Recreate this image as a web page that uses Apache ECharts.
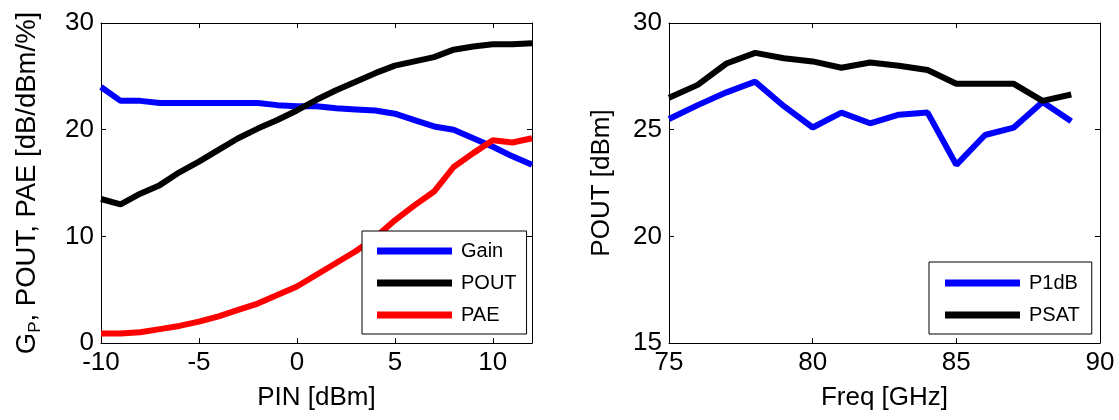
<!DOCTYPE html>
<html>
<head>
<meta charset="utf-8">
<script src="https://cdn.jsdelivr.net/npm/echarts@6/dist/echarts.min.js"></script>
<style>
  html, body { margin: 0; padding: 0; background: #fff; }
  #chart { width: 1119px; height: 420px; }
</style>
</head>
<body>
<div id="chart"></div>
<script>
// left panel: sweep of input power
const pin = [-10, -9, -8, -7, -6, -5, -4, -3, -2, -1, 0, 1, 2, 3, 4, 5, 6, 7, 8, 9, 10, 11, 12];
const gain = [24.0, 22.7, 22.7, 22.5, 22.5, 22.5, 22.5, 22.5, 22.5, 22.3, 22.2, 22.2, 22.0, 21.9, 21.8, 21.5, 20.9, 20.3, 20.0, 19.2, 18.4, 17.5, 16.7];
const pout = [13.5, 13.0, 14.0, 14.8, 16.0, 17.0, 18.1, 19.2, 20.1, 20.9, 21.8, 22.8, 23.7, 24.5, 25.3, 26.0, 26.4, 26.8, 27.5, 27.8, 28.0, 28.0, 28.1];
const pae = [0.9, 0.9, 1.0, 1.3, 1.6, 2.0, 2.5, 3.1, 3.7, 4.5, 5.3, 6.4, 7.5, 8.6, 9.9, 11.5, 12.9, 14.2, 16.5, 17.8, 19.0, 18.8, 19.2];

// right panel: sweep of frequency
const freq = [75, 76, 77, 78, 79, 80, 81, 82, 83, 84, 85, 86, 87, 88, 89];
const p1db = [25.5, 26.15, 26.75, 27.25, 26.1, 25.1, 25.8, 25.3, 25.7, 25.8, 23.35, 24.75, 25.1, 26.3, 25.4];
const psat = [26.5, 27.1, 28.1, 28.6, 28.35, 28.2, 27.9, 28.15, 28.0, 27.8, 27.15, 27.15, 27.15, 26.35, 26.65];

const font = 'Liberation Sans, Arial, sans-serif';
const tickFont = 26;
const nameFont = 26;

function pairs(xs, ys) {
  return xs.map((x, i) => [x, ys[i]]);
}

function mainAxis(pos, gridIndex, min, max, interval, extra) {
  return Object.assign({
    type: 'value',
    gridIndex: gridIndex,
    position: pos,
    min: min,
    max: max,
    interval: interval,
    splitLine: { show: false },
    axisLine: { show: true, onZero: false, lineStyle: { color: '#000', width: 1 } },
    axisTick: { show: true, inside: true, length: 5, lineStyle: { color: '#000' } },
    axisLabel: { color: '#000', fontSize: tickFont, fontFamily: font, margin: 7 },
    nameTextStyle: { color: '#000', fontSize: nameFont, fontFamily: font },
  }, extra || {});
}

function boxAxis(pos, gridIndex, min, max, interval) {
  return mainAxis(pos, gridIndex, min, max, interval, {
    axisLabel: { show: false },
  });
}

function lineSeries(name, xi, yi, data, color) {
  return {
    name: name,
    type: 'line',
    xAxisIndex: xi,
    yAxisIndex: yi,
    data: data,
    showSymbol: false,
    symbol: 'none',
    lineStyle: { color: color, width: 6 },
    itemStyle: { color: color },
    animation: false,
  };
}

function legendBox(names, left, top, padding) {
  return {
    data: names,
    orient: 'vertical',
    left: left,
    top: top,
    icon: 'rect',
    itemWidth: 75,
    itemHeight: 7,
    itemGap: 10,
    padding: padding,
    borderColor: '#000',
    borderWidth: 1,
    borderRadius: 0,
    backgroundColor: '#fff',
    selectedMode: false,
    textStyle: { color: '#000', fontSize: 20, fontFamily: font, lineHeight: 22, padding: [0, 0, 0, 4] },
  };
}

const chart = echarts.init(document.getElementById('chart'));
chart.setOption({
  backgroundColor: '#fff',
  animation: false,
  grid: [
    { left: 101, right: 587, top: 23, bottom: 77 },
    { left: 669, right: 19, top: 23, bottom: 77 },
  ],
  legend: [
    legendBox(['Gain', 'POUT', 'PAE'], 362, 231, [9, 10, 8, 15]),
    legendBox(['P1dB', 'PSAT'], 929, 262, [10, 12, 8, 16]),
  ],
  xAxis: [
    mainAxis('bottom', 0, -10, 12, 5, {
      name: 'PIN [dBm]', nameLocation: 'middle', nameGap: 42,
      axisLabel: { color: '#000', fontSize: tickFont, fontFamily: font, margin: 7, showMaxLabel: false },
    }),
    mainAxis('bottom', 1, 75, 90, 5, { name: 'Freq [GHz]', nameLocation: 'middle', nameGap: 42 }),
    boxAxis('top', 0, -10, 12, 5),
    boxAxis('top', 1, 75, 90, 5),
  ],
  yAxis: [
    mainAxis('left', 0, 0, 30, 10, {
      name: '{m|G}{s|P}{m|, POUT, PAE [dB/dBm/%]}',
      nameLocation: 'middle',
      nameGap: 57,
      nameTextStyle: {
        color: '#000', fontFamily: font,
        rich: {
          m: { fontSize: 27.5, fontFamily: font, color: '#000', lineHeight: 34 },
          s: { fontSize: 17, fontFamily: font, color: '#000', lineHeight: 17, verticalAlign: 'bottom' },
        },
      },
    }),
    mainAxis('left', 1, 15, 30, 5, { name: 'POUT [dBm]', nameLocation: 'middle', nameGap: 54 }),
    boxAxis('right', 0, 0, 30, 10),
    boxAxis('right', 1, 15, 30, 5),
  ],
  series: [
    lineSeries('Gain', 0, 0, pairs(pin, gain), '#0000ff'),
    lineSeries('POUT', 0, 0, pairs(pin, pout), '#000000'),
    lineSeries('PAE', 0, 0, pairs(pin, pae), '#ff0000'),
    lineSeries('P1dB', 1, 1, pairs(freq, p1db), '#0000ff'),
    lineSeries('PSAT', 1, 1, pairs(freq, psat), '#000000'),
  ],
});
</script>
</body>
</html>
